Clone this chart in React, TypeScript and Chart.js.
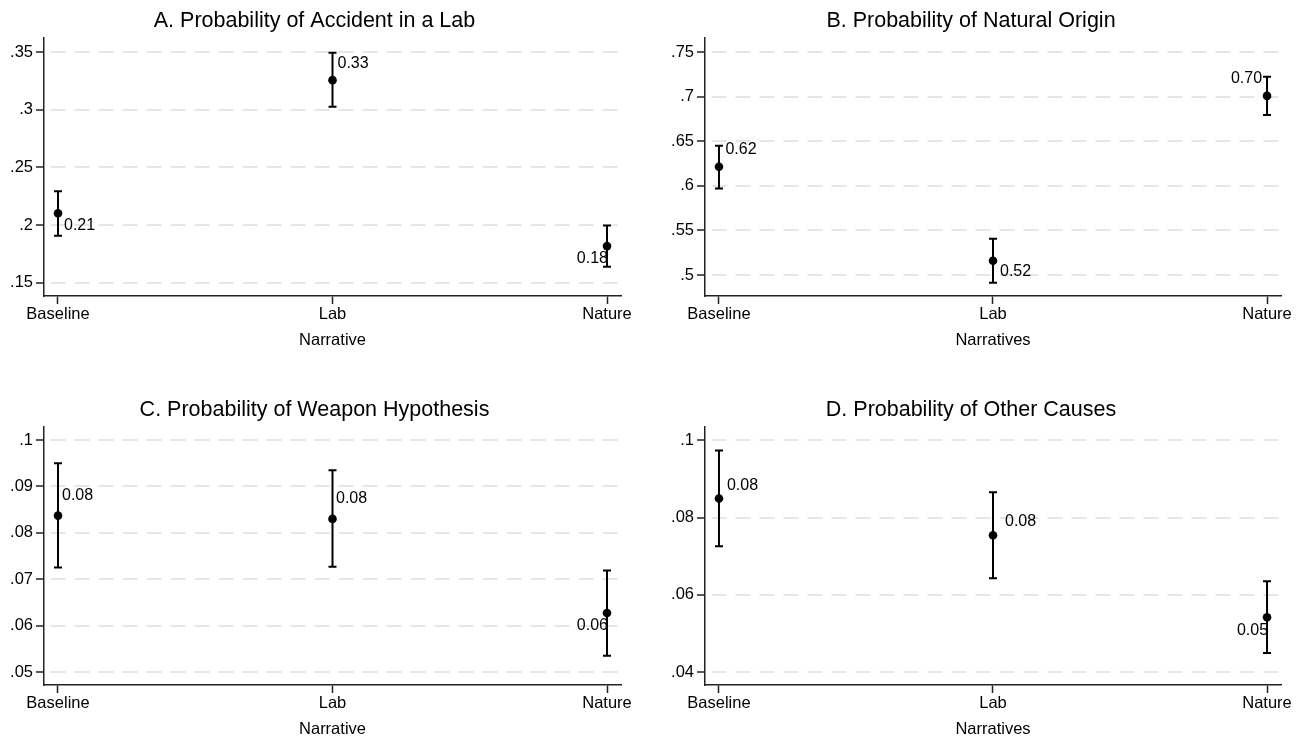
import React, { useEffect, useRef } from "react";
import { Chart, registerables } from "chart.js";

Chart.register(...registerables);

// ---------- data ----------
const categories = ["Baseline", "Lab", "Nature"];

const accidentMean = [0.2103, 0.3256, 0.1819];
const accidentLow = [0.1908, 0.3026, 0.164];
const accidentHigh = [0.2293, 0.3494, 0.1997];
const accidentTicks = [0.15, 0.2, 0.25, 0.3, 0.35];
const accidentTickLabels = [".15", ".2", ".25", ".3", ".35"];

const naturalMean = [0.6213, 0.516, 0.7008];
const naturalLow = [0.597, 0.4914, 0.6795];
const naturalHigh = [0.6448, 0.5407, 0.7224];
const naturalTicks = [0.5, 0.55, 0.6, 0.65, 0.7, 0.75];
const naturalTickLabels = [".5", ".55", ".6", ".65", ".7", ".75"];

const weaponMean = [0.0837, 0.083, 0.0627];
const weaponLow = [0.0725, 0.0727, 0.0535];
const weaponHigh = [0.095, 0.0935, 0.0719];
const weaponTicks = [0.05, 0.06, 0.07, 0.08, 0.09, 0.1];
const weaponTickLabels = [".05", ".06", ".07", ".08", ".09", ".1"];

const otherMean = [0.0849, 0.0754, 0.0542];
const otherLow = [0.0726, 0.0643, 0.045];
const otherHigh = [0.0973, 0.0865, 0.0635];
const otherTicks = [0.04, 0.06, 0.08, 0.1];
const otherTickLabels = [".04", ".06", ".08", ".1"];

// ---------- styling ----------
const FONT = "'Liberation Sans', Arial, Helvetica, sans-serif";
const INK = "#000";
const AXIS = "#222";
const GRID = "#e6e6e6";
const W = 653;
const H = 369;

type Off = { dx: number; dy: number; align: CanvasTextAlign };

const panels = [
  {
    title: "A. Probability of Accident in a Lab",
    xTitle: "Narrative",
    mean: accidentMean,
    low: accidentLow,
    high: accidentHigh,
    ticks: accidentTicks,
    tickLabels: accidentTickLabels,
    yMin: 0.1387,
    yMax: 0.3621,
    left: 0,
    top: 0,
    padLeft: 8,
    padRight: 32,
    yWidth: 36,
    offsets: [
      { dx: 6, dy: 12.5, align: "left" },
      { dx: 5, dy: -16.5, align: "left" },
      { dx: 1, dy: 12, align: "right" },
    ] as Off[],
  },
  {
    title: "B. Probability of Natural Origin",
    xTitle: "Narratives",
    mean: naturalMean,
    low: naturalLow,
    high: naturalHigh,
    ticks: naturalTicks,
    tickLabels: naturalTickLabels,
    yMin: 0.4765,
    yMax: 0.7657,
    left: 653,
    top: 0,
    padLeft: 8,
    padRight: 25,
    yWidth: 44,
    offsets: [
      { dx: 6.5, dy: -17.5, align: "left" },
      { dx: 7, dy: 11, align: "left" },
      { dx: -5, dy: -17.5, align: "right" },
    ] as Off[],
  },
  {
    title: "C. Probability of Weapon Hypothesis",
    xTitle: "Narrative",
    mean: weaponMean,
    low: weaponLow,
    high: weaponHigh,
    ticks: weaponTicks,
    tickLabels: weaponTickLabels,
    yMin: 0.0472,
    yMax: 0.1028,
    left: 0,
    top: 389,
    padLeft: 8,
    padRight: 32,
    yWidth: 36,
    offsets: [
      { dx: 4, dy: -20, align: "left" },
      { dx: 3.5, dy: -20.5, align: "left" },
      { dx: 1, dy: 12.5, align: "right" },
    ] as Off[],
  },
  {
    title: "D. Probability of Other Causes",
    xTitle: "Narratives",
    mean: otherMean,
    low: otherLow,
    high: otherHigh,
    ticks: otherTicks,
    tickLabels: otherTickLabels,
    yMin: 0.0367,
    yMax: 0.1034,
    left: 653,
    top: 389,
    padLeft: 8,
    padRight: 25,
    yWidth: 44,
    offsets: [
      { dx: 8, dy: -12.5, align: "left" },
      { dx: 12, dy: -13.5, align: "left" },
      { dx: 1, dy: 13.5, align: "right" },
    ] as Off[],
  },
];

// ---------- plugins ----------
const errorBarPlugin = {
  id: "errorBars",
  beforeDatasetsDraw(chart: any, _args: any, opts: any) {
    const { ctx, scales } = chart;
    const x = scales.x;
    const y = scales.y;
    const low: number[] = opts.low || [];
    const high: number[] = opts.high || [];
    ctx.save();
    ctx.strokeStyle = INK;
    ctx.lineWidth = 2;
    ctx.lineCap = "butt";
    low.forEach((lo, i) => {
      const px = x.getPixelForValue(i);
      const p1 = y.getPixelForValue(lo);
      const p2 = y.getPixelForValue(high[i]);
      ctx.beginPath();
      ctx.moveTo(px, p1);
      ctx.lineTo(px, p2);
      ctx.moveTo(px - 4, p1);
      ctx.lineTo(px + 4, p1);
      ctx.moveTo(px - 4, p2);
      ctx.lineTo(px + 4, p2);
      ctx.stroke();
    });
    ctx.restore();
  },
};

const pointLabelPlugin = {
  id: "pointLabels",
  afterDatasetsDraw(chart: any, _args: any, opts: any) {
    const { ctx, scales } = chart;
    const x = scales.x;
    const y = scales.y;
    const values: number[] = opts.values || [];
    const offsets: Off[] = opts.offsets || [];
    ctx.save();
    ctx.fillStyle = INK;
    ctx.font = `16px ${FONT}`;
    ctx.textBaseline = "middle";
    values.forEach((v, i) => {
      const o = offsets[i];
      const px = x.getPixelForValue(i);
      const py = y.getPixelForValue(v);
      ctx.textAlign = o.align;
      ctx.fillText(v.toFixed(2), px + o.dx, py + o.dy);
    });
    ctx.restore();
  },
};

function Panel({ cfg }: { cfg: (typeof panels)[number] }) {
  const ref = useRef<HTMLCanvasElement | null>(null);

  useEffect(() => {
    if (!ref.current) return;
    const tickFont = { family: FONT, size: 16.5 };
    const chart = new Chart(ref.current, {
      type: "scatter",
      data: {
        datasets: [
          {
            data: cfg.mean.map((v, i) => ({ x: i, y: v })),
            backgroundColor: INK,
            borderColor: INK,
            borderWidth: 0,
            pointRadius: 4.3,
            pointHoverRadius: 4.3,
          },
        ],
      },
      options: {
        responsive: false,
        animation: false,
        devicePixelRatio: 1,
        events: [],
        layout: { padding: { left: cfg.padLeft, right: cfg.padRight, top: 0, bottom: 0 } },
        plugins: {
          legend: { display: false },
          tooltip: { enabled: false },
          title: {
            display: true,
            text: cfg.title,
            color: INK,
            font: { family: FONT, size: 21.5, weight: "normal" },
            padding: { top: 8, bottom: 4.2 },
          },
          errorBars: { low: cfg.low, high: cfg.high },
          pointLabels: { values: cfg.mean, offsets: cfg.offsets },
        } as any,
        scales: {
          x: {
            type: "linear",
            min: -0.051,
            max: 2.051,
            afterBuildTicks: (s: any) => {
              s.ticks = categories.map((_, i) => ({ value: i }));
            },
            afterFit: (s: any) => {
              s.height = 73;
            },
            ticks: {
              callback: (v: any) => categories[Math.round(Number(v))],
              font: tickFont,
              color: INK,
              padding: 1,
              maxRotation: 0,
              autoSkip: false,
            },
            grid: {
              drawOnChartArea: false,
              drawTicks: true,
              tickLength: 8,
              tickColor: AXIS,
              tickWidth: 1.5,
            },
            border: { display: true, color: AXIS, width: 1.5 },
            title: {
              display: true,
              text: cfg.xTitle,
              color: INK,
              font: tickFont,
              padding: { top: 0, bottom: 18.4 },
            },
          },
          y: {
            type: "linear",
            min: cfg.yMin,
            max: cfg.yMax,
            afterBuildTicks: (s: any) => {
              s.ticks = cfg.ticks.map((v) => ({ value: v }));
            },
            afterFit: (s: any) => {
              s.width = cfg.yWidth;
            },
            ticks: {
              callback: (_v: any, i: number) => cfg.tickLabels[i],
              font: tickFont,
              color: INK,
              padding: 3,
              autoSkip: false,
            },
            grid: {
              color: GRID,
              lineWidth: 2,
              drawTicks: true,
              tickLength: 8,
              tickColor: AXIS,
              tickWidth: 1.5,
            },
            border: { display: true, color: AXIS, width: 1.5, dash: [15, 9], dashOffset: 18 },
          },
        } as any,
      },
      plugins: [errorBarPlugin, pointLabelPlugin],
    } as any);
    return () => chart.destroy();
  }, [cfg]);

  return (
    <canvas
      ref={ref}
      width={W}
      height={H}
      style={{ position: "absolute", left: cfg.left, top: cfg.top, width: W, height: H }}
    />
  );
}

export default function App() {
  return (
    <div
      style={{
        position: "fixed",
        left: 0,
        top: 0,
        width: 1306,
        height: 738,
        overflow: "hidden",
        background: "#fff",
      }}
    >
      {panels.map((p) => (
        <Panel key={p.title} cfg={p} />
      ))}
    </div>
  );
}
